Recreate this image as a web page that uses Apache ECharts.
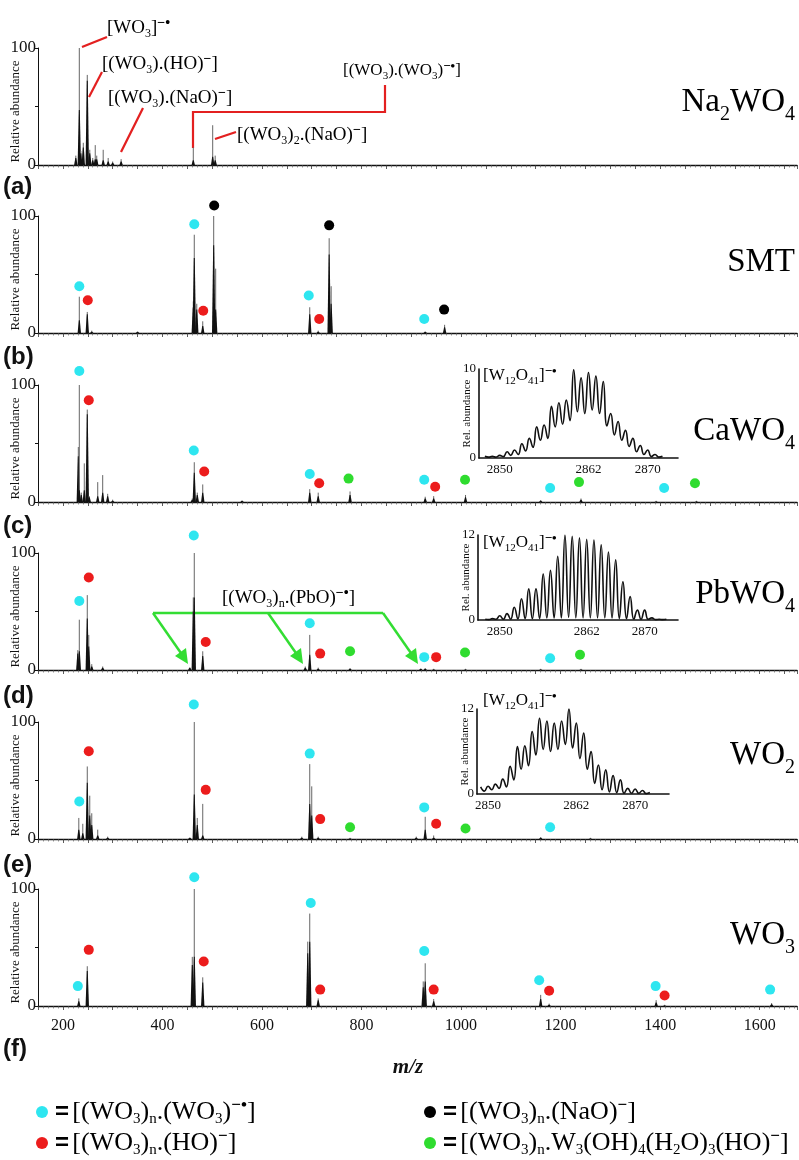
<!DOCTYPE html>
<html>
<head>
<meta charset="utf-8">
<script src="https://cdn.jsdelivr.net/npm/echarts@6/dist/echarts.min.js"></script>
<style>
  html, body { margin: 0; padding: 0; background: #fff; }
  #chart { width: 799px; height: 1160px; }
</style>
</head>
<body>
<div id="chart"></div>
<script>
// ---- data: peaks are [m/z, top of thin line, height of black body] ----
const peaksNa2WO4 = [[226, 8, 6], [233, 100, 47], [236, 12, 10], [241, 19, 15], [249, 77, 72], [254, 13, 10], [260, 6, 4],
  [265, 17, 5], [268, 8, 5], [281, 13, 4], [291, 6, 3], [300, 3, 2], [317, 5, 3], [462, 15, 4], [501, 34, 7], [506, 8, 4]];
const peaksSMT = [[233, 31, 11], [249, 18, 16], [258, 2, 1], [350, 1, 1], [462, 27, 22], [464, 84, 64], [469, 25, 20],
  [481, 10, 6], [503, 100, 75], [507, 55, 20], [696, 22, 16], [713, 2, 1], [735, 81, 67], [739, 40, 25], [928, 1, 1], [967, 7, 5]];
const peaksCaWO4 = [[231, 47, 39], [233, 100, 10], [237, 8, 6], [243, 33, 10], [249, 79, 75], [253, 5, 4], [270, 17, 5],
  [280, 23, 8], [290, 7, 5], [300, 2, 1], [460, 3, 2], [464, 34, 25], [470, 8, 6], [481, 15, 8], [560, 1, 1], [696, 11, 8],
  [713, 8, 5], [777, 9, 6], [928, 4.5, 3], [945, 5, 3], [1009, 6, 4], [1160, 1.5, 1], [1241, 3, 2], [1392, 1, 0.5], [1473, 1, 0.5]];
const peaksPbWO4 = [[230, 17, 14], [233, 43, 16], [249, 64, 44], [252, 30, 20], [258, 5, 3], [280, 3, 2], [455, 2, 2],
  [462, 62, 50], [464, 100, 62], [481, 16, 12], [687, 3, 2], [696, 30, 13], [713, 2, 1], [777, 1.5, 1], [919, 1, 1],
  [928, 1.5, 1], [945, 1, 0.5], [1009, 1, 0.5], [1160, 1, 0.5], [1241, 1, 0.5]];
const peaksWO2 = [[232, 18, 8], [240, 13, 5], [249, 62, 48], [254, 37, 20], [258, 22, 12], [270, 8, 3], [290, 2, 1],
  [455, 1, 1], [464, 100, 38], [470, 18, 12], [481, 30, 3], [680, 2, 1], [696, 64, 30], [700, 45, 20], [713, 2, 1],
  [777, 1, 0.5], [910, 2, 1], [928, 19, 8], [945, 3, 1], [1160, 1.5, 1], [1260, 1, 0.5]];
const peaksWO3 = [[232, 6.5, 4], [249, 34, 30], [460, 42, 35], [464, 100, 42], [481, 24.5, 20], [692, 55, 45], [696, 79, 55],
  [713, 6.5, 5], [924, 21, 16], [928, 36.5, 21], [945, 6, 4], [1160, 9.5, 6], [1177, 2, 1], [1392, 5, 3], [1409, 1, 0.5],
  [1624, 2.5, 1.5]];

// ---- marker dots [m/z, level] ----
const cyanSMT = [[233, 40], [464, 93], [694, 32], [926, 12]];
const redSMT = [[250, 28], [482, 19], [715, 12]];
const blackSMT = [[504, 109], [735, 92], [966, 20]];
const cyanCaWO4 = [[233, 112], [463, 44], [696, 24], [926, 19], [1179, 12], [1408, 12]];
const redCaWO4 = [[252, 87], [484, 26], [715, 16], [948, 13]];
const greenCaWO4 = [[774, 20], [1008, 19], [1237, 17], [1470, 16]];
const cyanPbWO4 = [[233, 59], [463, 115], [696, 40], [926, 11], [1179, 10]];
const redPbWO4 = [[252, 79], [487, 24], [717, 14], [950, 11]];
const greenPbWO4 = [[777, 16], [1008, 15], [1239, 13]];
const cyanWO2 = [[233, 32], [463, 115], [696, 73], [926, 27], [1179, 10]];
const redWO2 = [[252, 75], [487, 42], [717, 17], [950, 13]];
const greenWO2 = [[777, 10], [1009, 9]];
const cyanWO3 = [[230, 17], [464, 110], [698, 88], [926, 47], [1157, 22], [1391, 17], [1621, 14]];
const redWO3 = [[252, 48], [483, 38], [717, 14], [945, 14], [1177, 13], [1409, 9]];

// ---- insets: isotope pattern of [W12O41]-, heights at each integer m/z and valleys between ----
const insetCaStart = 2848;
const insetCaPeaks = [0.2, 0.2, 0.3, 0.7, 0.9, 1.6, 2.2, 3.5, 3.7, 5.8, 6.2, 6.5, 9.9, 9.0, 9.6, 9.2, 8.6, 5.0, 4.1, 3.1, 2.2, 1.4, 0.9, 0.4, 0.2];
const insetCaValleys = [0.1, 0.1, 0.15, 0.3, 0.4, 0.8, 1.2, 2.0, 2.2, 3.5, 3.8, 4.2, 5.2, 5.0, 5.4, 5.0, 3.6, 2.6, 2.0, 1.3, 0.7, 0.4, 0.15, 0.1];
const insetPbStart = 2848;
const insetPbPeaks = [0.1, 0.2, 0.6, 0.9, 1.8, 3.0, 4.4, 4.4, 6.5, 7.0, 9.0, 12.0, 11.8, 11.6, 11.4, 11.3, 10.6, 9.6, 8.5, 5.4, 3.3, 1.4, 1.4, 0.3, 0.1, 0.1];
const insetPbValleys = [0.05, 0.1, 0.1, 0.1, 0.15, 0.2, 0.2, 0.2, 0.3, 0.3, 0.3, 0.4, 0.3, 0.3, 0.3, 0.3, 0.3, 0.3, 0.2, 0.2, 0.1, 0.1, 0.1, 0.05, 0.05];
const insetWO2Start = 2849;
const insetWO2Peaks = [1.0, 1.1, 1.4, 2.1, 3.9, 6.7, 6.8, 8.8, 10.7, 10.3, 10.0, 10.3, 12.0, 10.0, 8.6, 6.0, 4.1, 3.4, 2.6, 2.0, 0.8, 0.7, 0.5, 0.2];
const insetWO2Valleys = [0.4, 0.6, 0.8, 1.0, 2.0, 3.5, 4.0, 5.5, 6.3, 6.0, 6.3, 7.0, 6.5, 5.0, 3.5, 1.5, 0.6, 0.3, 0.2, 0.1, 0.1, 0.1, 0.05];
const insetTicks = [2850, 2862, 2870];

const mzTickLabels = [200, 400, 600, 800, 1000, 1200, 1400, 1600];
const sampleNames = ['{b|Na}{bs|2}{b|WO}{bs|4}', '{b|SMT}', '{b|CaWO}{bs|4}', '{b|PbWO}{bs|4}', '{b|WO}{bs|2}', '{b|WO}{bs|3}'];
const panelLetters = ['(a)', '(b)', '(c)', '(d)', '(e)', '(f)'];

const SERIF = '"Liberation Serif", "Times New Roman", serif';
const SANS = '"Liberation Sans", Arial, sans-serif';
const CYAN = '#2ee6f0', RED = '#ec1c1c', GREEN = '#2fdc2f', BLACK = '#000';

const chart = echarts.init(document.getElementById('chart'));

// layout of the six stacked spectra
const panelTops = [48, 216, 385, 553, 722, 889];
const panelHeight = 117;
const allPeaks = [peaksNa2WO4, peaksSMT, peaksCaWO4, peaksPbWO4, peaksWO2, peaksWO3];
const allDots = [
  [],
  [[cyanSMT, CYAN], [redSMT, RED], [blackSMT, BLACK]],
  [[cyanCaWO4, CYAN], [redCaWO4, RED], [greenCaWO4, GREEN]],
  [[cyanPbWO4, CYAN], [redPbWO4, RED], [greenPbWO4, GREEN]],
  [[cyanWO2, CYAN], [redWO2, RED], [greenWO2, GREEN]],
  [[cyanWO3, CYAN], [redWO3, RED]]
];

const rich = {
  n: { fontFamily: SERIF, fontSize: 19, lineHeight: 24, color: '#111' },
  s: { fontFamily: SERIF, fontSize: 12, lineHeight: 12, verticalAlign: 'bottom', color: '#111' },
  p: { fontFamily: SERIF, fontSize: 14, lineHeight: 14, verticalAlign: 'top', fontWeight: 'bold', color: '#111' },
  b: { fontFamily: SERIF, fontSize: 33, lineHeight: 38, color: '#111' },
  bs: { fontFamily: SERIF, fontSize: 20, lineHeight: 20, verticalAlign: 'bottom', color: '#111', padding: [0, 0, -4, 0] },
  l: { fontFamily: SERIF, fontSize: 26, lineHeight: 30, color: '#111' },
  ls: { fontFamily: SERIF, fontSize: 15, lineHeight: 15, verticalAlign: 'bottom', color: '#111' },
  lp: { fontFamily: SERIF, fontSize: 17, lineHeight: 17, verticalAlign: 'top', fontWeight: 'bold', color: '#111' },
  eq: { fontFamily: SANS, fontSize: 24, lineHeight: 30, fontWeight: 'bold', color: '#111' },
  m: { fontFamily: SERIF, fontSize: 17, lineHeight: 22, color: '#111' },
  ms: { fontFamily: SERIF, fontSize: 11, lineHeight: 11, verticalAlign: 'bottom', color: '#111' },
  mp: { fontFamily: SERIF, fontSize: 13, lineHeight: 13, verticalAlign: 'top', fontWeight: 'bold', color: '#111' }
};

function renderPeak(params, api) {
  const x = api.value(0);
  const base = api.coord([x, 0]);
  const top = api.coord([x, api.value(1)]);
  const body = api.coord([x, api.value(2)]);
  return {
    type: 'group',
    children: [
      { type: 'line', shape: { x1: base[0], y1: base[1], x2: top[0], y2: top[1] }, style: { stroke: '#666', lineWidth: 1 } },
      { type: 'polygon', shape: { points: [[base[0] - 1.7, base[1]], [base[0] - 0.5, body[1]], [base[0] + 0.5, body[1]], [base[0] + 1.7, base[1]]] },
        style: { fill: '#111' } }
    ]
  };
}

function insetData(start, peaks, valleys) {
  const out = [];
  peaks.forEach((h, i) => {
    out.push([start + i, h]);
    if (i < valleys.length) out.push([start + i + 0.5, valleys[i]]);
  });
  return out;
}

const grid = [], xAxis = [], yAxis = [], series = [];

panelTops.forEach((top, i) => {
  grid.push({ left: 38, top: top, width: 759, height: panelHeight, containLabel: false, outerBoundsMode: 'none' });
  xAxis.push({
    type: 'value', gridIndex: i, min: 150, max: 1675, interval: 50,
    axisLine: { onZero: false, lineStyle: { color: '#111', width: 1.3 } },
    axisTick: { show: true, length: 4, lineStyle: { color: '#333', width: 0.8 } },
    minorTick: { show: true, splitNumber: 5, length: 2.5, lineStyle: { color: '#555', width: 0.6 } },
    splitLine: { show: false },
    axisLabel: {
      show: i === panelTops.length - 1, margin: 12, fontFamily: SERIF, fontSize: 16, color: '#111',
      formatter: v => (mzTickLabels.includes(v) ? String(v) : '')
    }
  });
  yAxis.push({
    type: 'value', gridIndex: i, min: 0, max: 100, interval: 50,
    name: 'Relative abundance', nameLocation: 'middle', nameGap: 16, nameMoveOverlap: false,
    nameTextStyle: { fontFamily: SERIF, fontSize: 13, color: '#111', padding: [0, 10, 0, 0] },
    axisLine: { show: true, lineStyle: { color: '#111', width: 1 } },
    axisTick: { show: true, length: 3, lineStyle: { color: '#111' } },
    splitLine: { show: false },
    axisLabel: { margin: 2, fontFamily: SERIF, fontSize: 17, color: '#111', formatter: v => (v === 50 ? '' : String(v)) }
  });
  series.push({
    type: 'custom', xAxisIndex: i, yAxisIndex: i, renderItem: renderPeak,
    encode: { x: 0, y: 1 }, data: allPeaks[i], silent: true, clip: false
  });
  allDots[i].forEach(([pts, color]) => {
    series.push({
      type: 'scatter', xAxisIndex: i, yAxisIndex: i, data: pts, symbolSize: 10,
      itemStyle: { color: color, opacity: 1 }, clip: false, silent: true
    });
  });
});

// insets
const insets = [
  { left: 479, top: 369, width: 199, height: 89, min: 2847.2, max: 2874.1, ymax: 10, data: insetData(insetCaStart, insetCaPeaks, insetCaValleys) },
  { left: 478, top: 535, width: 200, height: 85, min: 2847, max: 2874.6, ymax: 12, data: insetData(insetPbStart, insetPbPeaks, insetPbValleys) },
  { left: 477, top: 709, width: 192, height: 85, min: 2848.5, max: 2874.6, ymax: 12, data: insetData(insetWO2Start, insetWO2Peaks, insetWO2Valleys) }
];
insets.forEach((ins) => {
  const gi = grid.length;
  grid.push({ left: ins.left, top: ins.top, width: ins.width, height: ins.height, containLabel: false, outerBoundsMode: 'none' });
  xAxis.push({
    type: 'value', gridIndex: gi, min: ins.min, max: ins.max,
    axisLine: { onZero: false, lineStyle: { color: '#111', width: 1.6 } },
    axisTick: { show: false }, splitLine: { show: false },
    axisLabel: { customValues: insetTicks, margin: 5, fontFamily: SERIF, fontSize: 13, color: '#111', formatter: v => String(v) }
  });
  yAxis.push({
    type: 'value', gridIndex: gi, min: 0, max: ins.ymax, interval: ins.ymax,
    name: 'Rel. abundance', nameLocation: 'middle', nameGap: 6, nameMoveOverlap: false,
    nameTextStyle: { fontFamily: SERIF, fontSize: 11, color: '#111' },
    axisLine: { show: true, lineStyle: { color: '#111', width: 1.6 } },
    axisTick: { show: false }, splitLine: { show: false },
    axisLabel: { margin: 3, fontFamily: SERIF, fontSize: 13, color: '#111' }
  });
  series.push({
    type: 'line', xAxisIndex: gi, yAxisIndex: gi, data: ins.data, smooth: 0.5, symbol: 'none',
    lineStyle: { color: '#111', width: 1.6 }, silent: true
  });
});

// text, leader lines and legend
const graphic = [];
function txt(x, y, text, align) {
  graphic.push({ type: 'text', x: x, y: y, silent: true,
    style: { text: text, rich: rich, align: align || 'left', verticalAlign: 'middle' } });
}
function redLine(points) {
  graphic.push({ type: 'polyline', silent: true, shape: { points: points }, style: { stroke: '#e32020', lineWidth: 2.2, fill: null } });
}

const letterY = [187, 357, 526, 696, 865, 1049];
panelLetters.forEach((t, i) => {
  graphic.push({ type: 'text', x: 3, y: letterY[i], silent: true,
    style: { text: t, font: 'bold 24px ' + SANS, fill: '#111', verticalAlign: 'middle' } });
});
const nameY = [102, 262, 431, 594, 755, 935];
sampleNames.forEach((t, i) => txt(795, nameY[i], t, 'right'));

// panel 1 annotations
txt(107, 28, '{n|[WO}{s|3}{n|]}{p|−•}');
redLine([[82, 47], [107, 37]]);
txt(102, 64, '{n|[(WO}{s|3}{n|).(HO)}{p|−}{n|]}');
redLine([[89, 97], [102, 72]]);
txt(108, 98, '{n|[(WO}{s|3}{n|).(NaO)}{p|−}{n|]}');
redLine([[121, 152], [143, 108]]);
txt(343, 71, '{m|[(WO}{ms|3}{m|).(WO}{ms|3}{m|)}{mp|−•}{m|]}');
redLine([[193, 148], [193, 112], [385, 112], [385, 85]]);
txt(237, 135, '{n|[(WO}{s|3}{n|)}{s|2}{n|.(NaO)}{p|−}{n|]}');
redLine([[215, 139], [236, 132]]);

// inset labels
txt(483, 376, '{m|[W}{ms|12}{m|O}{ms|41}{m|]}{mp|−•}');
txt(483, 543, '{m|[W}{ms|12}{m|O}{ms|41}{m|]}{mp|−•}');
txt(483, 701, '{m|[W}{ms|12}{m|O}{ms|41}{m|]}{mp|−•}');

// PbO arrows
txt(222, 598, '{n|[(WO}{s|3}{n|)}{s|n}{n|.(PbO)}{p|−•}{n|]}');
graphic.push({ type: 'polyline', silent: true, shape: { points: [[153, 613], [383, 613]] }, style: { stroke: '#33dd33', lineWidth: 2.5, fill: null } });
[[153, 187], [268, 302], [383, 417]].forEach(([x0, x1]) => {
  graphic.push({ type: 'line', silent: true, shape: { x1: x0, y1: 613, x2: x1 - 4, y2: 656 }, style: { stroke: '#33dd33', lineWidth: 2.5 } });
  graphic.push({ type: 'polygon', silent: true, shape: { points: [[x1 + 1, 664], [x1 - 12, 656], [x1 - 1, 648]] }, style: { fill: '#33dd33' } });
});

// x axis title
graphic.push({ type: 'text', x: 408, y: 1068, silent: true,
  style: { text: 'm/z', font: 'italic bold 21px ' + SERIF, fill: '#111', align: 'center', verticalAlign: 'middle' } });

// legend
const legendItems = [
  [42, 1112, CYAN, '{eq|=} {l|[(WO}{ls|3}{l|)}{ls|n}{l|.(WO}{ls|3}{l|)}{lp|−•}{l|]}'],
  [42, 1143, RED, '{eq|=} {l|[(WO}{ls|3}{l|)}{ls|n}{l|.(HO)}{lp|−}{l|]}'],
  [430, 1112, BLACK, '{eq|=} {l|[(WO}{ls|3}{l|)}{ls|n}{l|.(NaO)}{lp|−}{l|]}'],
  [430, 1143, GREEN, '{eq|=} {l|[(WO}{ls|3}{l|)}{ls|n}{l|.W}{ls|3}{l|(OH)}{ls|4}{l|(H}{ls|2}{l|O)}{ls|3}{l|(HO)}{lp|−}{l|]}']
];
legendItems.forEach(([x, y, c, t]) => {
  graphic.push({ type: 'circle', silent: true, shape: { cx: x, cy: y, r: 6 }, style: { fill: c } });
  txt(x + 13, y, t);
});

chart.setOption({
  backgroundColor: '#fff',
  animation: false,
  grid: grid,
  xAxis: xAxis,
  yAxis: yAxis,
  series: series,
  graphic: graphic
});
</script>
</body>
</html>
